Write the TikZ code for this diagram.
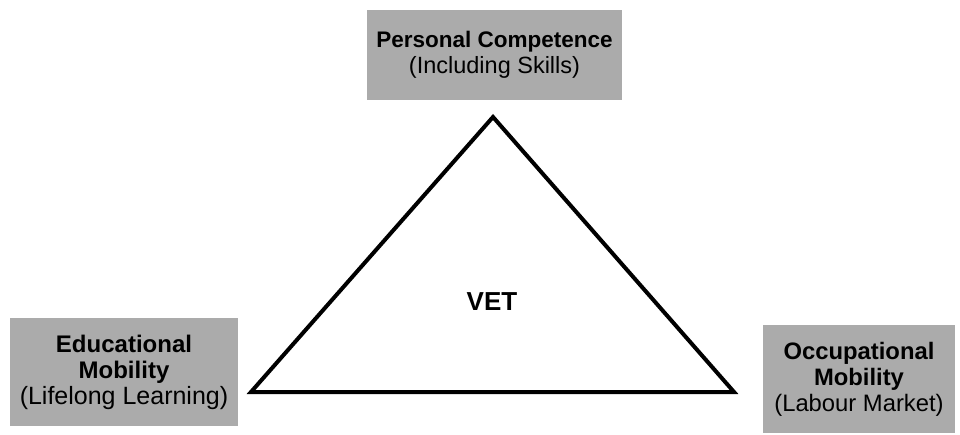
\documentclass[tikz,border=0pt]{standalone}
\usepackage{fontspec}
\setmainfont{Liberation Sans}
\begin{document}
\begin{tikzpicture}[x=1pt,y=-1pt,
  box/.style={fill=black!33, draw=none, inner sep=0pt, align=center},
  tri/.style={draw=black, line width=4pt, line join=miter}]
\useasboundingbox (0,0) rectangle (960,435);
\node[box, minimum width=255pt, minimum height=90pt,
  font=\fontsize{22.5}{26}\selectfont] (pc) at (494.5,55)
  {\bfseries Personal Competence\\{\fontsize{23.5}{26}\selectfont(Including Skills)}};
\node[box, minimum width=228pt, minimum height=108pt,
  font=\fontsize{24}{26}\selectfont] (em) at (124,372)
  {\bfseries Educational\\\bfseries Mobility\\{\fontsize{25}{26}\selectfont(Lifelong Learning)}};
\node[box, minimum width=192pt, minimum height=108pt,
  font=\fontsize{23.8}{26}\selectfont] (om) at (859,379)
  {\bfseries Occupational\\\bfseries Mobility\\(Labour Market)};
\coordinate (A) at (493,117);
\coordinate (B) at (251,392);
\coordinate (C) at (734,392);
\draw[tri] (A) -- (B) -- (C) -- cycle;
\node[font=\fontsize{26}{30}\selectfont\bfseries] (vet) at (492,302) {VET};
\end{tikzpicture}
\end{document}
